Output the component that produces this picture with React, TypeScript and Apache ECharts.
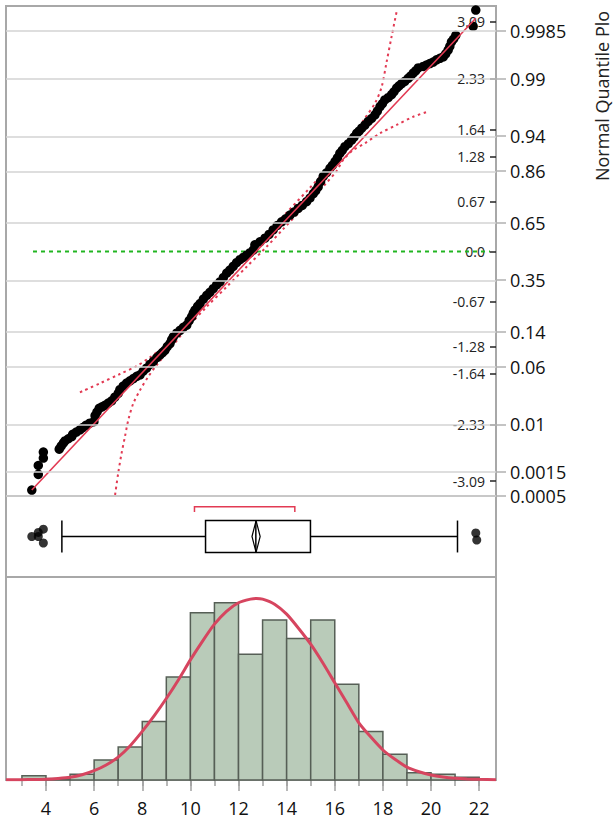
import { useEffect, useRef } from 'react';
import * as echarts from 'echarts';

const X_MIN = 2.338;
const X_MAX = 22.7;
const Z_MIN = -3.2905;
const Z_MAX = 3.304;

// Normal quantile plot: sorted data values and their normal quantiles
const qqValues = [
  3.41, 3.68, 3.68, 3.89, 3.89, 4.55, 4.63, 4.72, 4.79, 4.93, 5.07, 5.11, 5.26, 5.41, 5.53, 5.66, 5.82, 5.99,
  6.04, 6.12, 6.21, 6.33, 6.45, 6.59, 6.73, 6.86, 7.0, 7.07, 7.21, 7.35, 7.49, 7.63, 7.77, 7.91, 8.04, 8.18,
  8.32, 8.46, 8.6, 8.74, 8.84, 8.94, 9.04, 9.15, 9.22, 9.29, 9.43, 9.57, 9.71, 9.85, 9.95, 10.05, 10.12, 10.19,
  10.3, 10.4, 10.54, 10.68, 10.81, 10.95, 11.09, 11.23, 11.37, 11.51, 11.64, 11.78, 11.92, 12.06, 12.2, 12.34,
  12.47, 12.61, 12.68, 12.89, 13.1, 13.27, 13.44, 13.61, 13.79, 13.96, 14.14, 14.31, 14.48, 14.65, 14.83, 14.97,
  15.11, 15.21, 15.31, 15.41, 15.52, 15.66, 15.8, 15.9, 16.01, 16.11, 16.21, 16.31, 16.42, 16.56, 16.7, 16.8,
  16.91, 17.01, 17.12, 17.25, 17.39, 17.53, 17.67, 17.77, 17.88, 17.98, 18.08, 18.22, 18.36, 18.46, 18.57, 18.67,
  18.78, 18.91, 19.05, 19.15, 19.26, 19.36, 19.47, 19.68, 19.81, 19.95, 20.09, 20.23, 20.37, 20.51, 20.61, 20.71,
  20.78, 20.85, 20.94, 21.03, 21.75, 21.86,
];
const qqZ = [
  -3.21, -3.0, -2.88, -2.78, -2.7, -2.66, -2.62, -2.58, -2.55, -2.52, -2.49, -2.46, -2.43, -2.4, -2.37, -2.34, -2.31, -2.29,
  -2.21, -2.16, -2.11, -2.09, -2.07, -2.04, -2.01, -1.96, -1.91, -1.86, -1.81, -1.77, -1.74, -1.71, -1.68, -1.66, -1.61, -1.57,
  -1.52, -1.48, -1.43, -1.39, -1.36, -1.33, -1.28, -1.24, -1.19, -1.15, -1.1, -1.06, -1.02, -0.99, -0.93, -0.88, -0.83, -0.79,
  -0.74, -0.7, -0.64, -0.59, -0.55, -0.5, -0.45, -0.41, -0.35, -0.29, -0.25, -0.2, -0.15, -0.11, -0.08, -0.05,
  -0.02, 0.02, 0.09, 0.13, 0.18, 0.23, 0.29, 0.35, 0.4, 0.44, 0.49, 0.53, 0.58, 0.62, 0.67, 0.72,
  0.78, 0.82, 0.87, 0.94, 1.01, 1.06, 1.12, 1.16, 1.21, 1.26, 1.32, 1.36, 1.41, 1.45, 1.5, 1.54,
  1.59, 1.62, 1.66, 1.7, 1.75, 1.79, 1.84, 1.89, 1.95, 1.99, 2.04, 2.07, 2.11, 2.15, 2.2, 2.23,
  2.26, 2.29, 2.33, 2.36, 2.4, 2.43, 2.47, 2.49, 2.51, 2.53, 2.55, 2.58, 2.6, 2.62, 2.66, 2.71,
  2.76, 2.82, 2.86, 2.91, 3.03, 3.25,
];

// fitted normal line and reference line
const fitLineValues = [3.41, 21.86];
const fitLineZ = [-3.21, 3.14];
const refLineValues = [3.46, 22.45];
const refLineZ = [0, 0];

// confidence bands
const bandLoValues = [5.41, 6.24, 7.07, 7.77, 8.32, 8.87, 9.29, 10.08, 12.07, 13.55, 14.96, 16.14, 16.49, 16.84, 17.25, 17.67, 17.95, 18.15, 18.36, 18.57];
const bandLoZ = [-1.895, -1.774, -1.649, -1.541, -1.424, -1.289, -1.147, -0.828, -0.141, 0.37, 0.855, 1.276, 1.433, 1.591, 1.793, 1.995, 2.218, 2.544, 2.891, 3.227];
const bandHiValues = [6.87, 7.0, 7.14, 7.28, 7.42, 7.63, 7.91, 8.25, 8.6, 9.01, 9.85, 10.68, 11.51, 12.34, 13.17, 13.82, 14.47, 15.12, 15.64, 16.08, 16.35, 16.77, 17.25, 17.88, 18.57, 19.26, 19.88];
const bandHiZ = [-3.277, -2.985, -2.716, -2.493, -2.268, -2.043, -1.864, -1.685, -1.528, -1.37, -1.034, -0.743, -0.474, -0.205, 0.065, 0.289, 0.514, 0.738, 0.918, 1.086, 1.232, 1.366, 1.456, 1.591, 1.703, 1.814, 1.882];

// axis labels
const probLabels = ['0.0005', '0.0015', '0.01', '0.06', '0.14', '0.35', '0.65', '0.86', '0.94', '0.99', '0.9985'];
const probZ = [-3.2905, -2.9677, -2.3263, -1.5548, -1.0803, -0.3853, 0.3853, 1.0803, 1.5548, 2.3263, 2.9677];
const zTicks = [-3.09, -2.33, -1.64, -1.28, -0.67, 0, 0.67, 1.28, 1.64, 2.33, 3.09];
const zTickLabels = ['-3.09', '-2.33', '-1.64', '-1.28', '-0.67', '0.0', '0.67', '1.28', '1.64', '2.33', '3.09'];
const xTickValues = [3, 4, 5, 6, 7, 8, 9, 10, 11, 12, 13, 14, 15, 16, 17, 18, 19, 20, 21, 22];
const xLabelValues = [4, 6, 8, 10, 12, 14, 16, 18, 20, 22];

// box plot
const boxStats = [4.66, 10.63, 12.72, 14.99, 21.1];
const meanDiamond = [12.56, 12.73, 12.9];
const shortestHalf = [10.17, 14.34];
const outlierValues = [3.41, 3.68, 3.68, 3.89, 3.89, 21.86, 21.9];
const outlierJitter = [0.5, 0.55, 0.5, 0.59, 0.42, 0.543, 0.457];

// histogram
const binStarts = [3, 4, 5, 6, 7, 8, 9, 10, 11, 12, 13, 14, 15, 16, 17, 18, 19, 20, 21];
const binWidth = 1;
const binCounts = [3, 1, 4, 14, 23, 41, 72, 117, 124, 88, 112, 99, 112, 67, 34, 18, 5, 4, 2];
const HIST_MAX = 142;

// fitted normal density curve (in counts)
const curveX = [2.338, 3, 3.5, 4, 4.5, 5, 5.5, 6, 6.5, 7, 7.5, 8, 8.5, 9, 9.5, 10, 10.5, 11, 11.5, 12, 12.5, 12.75, 13, 13.5, 14, 14.5, 15, 15.5, 16, 16.5, 17, 17.5, 18, 18.5, 19, 19.5, 20, 20.5, 21, 21.5, 22, 22.7];
const curveY = [0.15, 0.25, 0.4, 0.6, 1.1, 1.9, 3.7, 6.5, 10.5, 16, 24, 34, 45, 57, 70, 84, 97, 109, 118, 124, 126.5, 127, 126.5, 123, 116, 106, 95, 82, 68, 54, 40, 30, 21, 14.5, 9, 5.8, 3.5, 2.1, 1.2, 0.7, 0.45, 0.2];

const FONT = 'Open Sans';
const FRAME = '#a8a8a8';
const RED = '#e23a53';

export default function App() {
  const ref = useRef<HTMLDivElement>(null);
  useEffect(() => {
    if (!ref.current) return;
    const chart = echarts.init(ref.current, undefined, { renderer: 'svg' });
    const pair = (xs: number[], ys: number[]) => xs.map((x, i) => [x, ys[i]]);
    const grids = [
      { left: 6, top: 6, width: 490, height: 490 },
      { left: 6, top: 496, width: 490, height: 81 },
      { left: 6, top: 577, width: 490, height: 203 },
    ].map((g) => ({ ...g, show: true, borderColor: FRAME, borderWidth: 2, backgroundColor: 'transparent', containLabel: false }));

    const option: any = {
      animation: false,
      textStyle: { fontFamily: FONT },
      grid: grids,
      xAxis: [
        { gridIndex: 0, type: 'value', min: X_MIN, max: X_MAX, show: false },
        { gridIndex: 1, type: 'value', min: X_MIN, max: X_MAX, show: false },
        {
          gridIndex: 2, type: 'value', min: X_MIN, max: X_MAX, position: 'bottom', offset: 0,
          axisLine: { show: true, lineStyle: { color: FRAME, width: 2 } },
          axisTick: { show: true, customValues: xTickValues, length: 6, lineStyle: { color: '#a0a0a0', width: 1.5 } },
          axisLabel: { show: false },
          splitLine: { show: false },
        },
        {
          gridIndex: 2, type: 'value', min: X_MIN, max: X_MAX, position: 'bottom', offset: 0,
          axisLine: { show: false },
          axisTick: { show: true, customValues: xLabelValues, length: 11, lineStyle: { color: '#a0a0a0', width: 1.5 } },
          axisLabel: { show: true, customValues: xLabelValues, fontSize: 18, color: '#111', margin: 19, fontFamily: FONT },
          splitLine: { show: false },
        },
      ],
      yAxis: [
        {
          gridIndex: 0, type: 'value', min: Z_MIN, max: Z_MAX, position: 'right', offset: 0,
          axisLine: { show: false },
          axisTick: { show: true, customValues: probZ, length: 10, lineStyle: { color: '#b0b0b0', width: 1.5 } },
          axisLabel: {
            show: true, customValues: probZ, fontSize: 18, color: '#111', margin: 14, fontFamily: FONT,
            showMinLabel: true, showMaxLabel: true,
            formatter: (v: number) => {
              const i = probZ.findIndex((z) => Math.abs(z - v) < 1e-6);
              return i >= 0 ? probLabels[i] : '';
            },
          },
          splitLine: { show: false },
        },
        {
          gridIndex: 0, type: 'value', min: Z_MIN, max: Z_MAX, position: 'right', offset: 0,
          axisLine: { show: false },
          axisTick: { show: true, inside: true, customValues: zTicks, length: 6, lineStyle: { color: '#222', width: 1.5 } },
          axisLabel: {
            show: true, inside: true, customValues: zTicks, fontSize: 14, color: '#222', margin: 11, fontFamily: FONT,
            formatter: (v: number) => {
              const i = zTicks.findIndex((z) => Math.abs(z - v) < 1e-6);
              return i >= 0 ? zTickLabels[i] : '';
            },
          },
          splitLine: { show: false },
        },
        { gridIndex: 1, type: 'value', min: 0, max: 1, show: false },
        { gridIndex: 2, type: 'value', min: 0, max: HIST_MAX, show: false },
      ],
      graphic: [
        {
          type: 'text', x: 602, y: 96, rotation: Math.PI / 2,
          style: { text: 'Normal Quantile Plo', fontSize: 18, fill: '#222', fontFamily: FONT, textAlign: 'center', textVerticalAlign: 'middle' },
        },
      ],
      series: [
        // gridlines
        {
          type: 'line', xAxisIndex: 0, yAxisIndex: 0, data: [[X_MIN, 0]], symbol: 'none', lineStyle: { opacity: 0 }, z: 1, silent: true,
          markLine: {
            symbol: 'none', silent: true, label: { show: false },
            lineStyle: { color: '#d3d3d3', width: 1.6, type: 'solid' },
            data: probZ.map((z) => ({ yAxis: z })),
          },
        },
        {
          type: 'line', xAxisIndex: 0, yAxisIndex: 0, data: pair(refLineValues, refLineZ), symbol: 'none', z: 2,
          lineStyle: { color: '#22b522', width: 2, type: [4, 4] },
        },
        {
          type: 'line', xAxisIndex: 0, yAxisIndex: 0, data: pair(bandLoValues, bandLoZ), symbol: 'none', smooth: 0.3, z: 2,
          lineStyle: { color: RED, width: 2, type: [2.5, 3.5] },
        },
        {
          type: 'line', xAxisIndex: 0, yAxisIndex: 0, data: pair(bandHiValues, bandHiZ), symbol: 'none', smooth: 0.3, z: 2,
          lineStyle: { color: RED, width: 2, type: [2.5, 3.5] },
        },
        {
          type: 'scatter', xAxisIndex: 0, yAxisIndex: 0, data: pair(qqValues, qqZ), symbolSize: 9.5, z: 3,
          itemStyle: { color: '#000', opacity: 1 },
        },
        {
          type: 'line', xAxisIndex: 0, yAxisIndex: 0, data: pair(fitLineValues, fitLineZ), symbol: 'none', z: 4,
          lineStyle: { color: RED, width: 1.6 },
        },
        // box plot
        {
          type: 'custom', xAxisIndex: 1, yAxisIndex: 2, data: [boxStats], z: 3,
          renderItem: (_p: any, api: any) => {
            const wl = api.value(0), q1 = api.value(1), med = api.value(2), q3 = api.value(3), wh = api.value(4);
            const [mLo, m, mHi] = meanDiamond;
            const [sLo, sHi] = shortestHalf;
            const c = (x: number, y: number) => api.coord([x, y]);
            const yc = 0.5, yt = 0.697, yb = 0.303;
            const st = { stroke: '#000', lineWidth: 1.5, fill: null };
            const ln = (a: number[], b: number[], style: any = st) => ({ type: 'line', shape: { x1: a[0], y1: a[1], x2: b[0], y2: b[1] }, style });
            const tl = c(q1, yt), br = c(q3, yb);
            return {
              type: 'group',
              children: [
                ln(c(wl, yc), c(q1, yc)),
                ln(c(q3, yc), c(wh, yc)),
                ln(c(wl, yt), c(wl, yb)),
                ln(c(wh, yt), c(wh, yb)),
                { type: 'rect', shape: { x: tl[0], y: tl[1], width: br[0] - tl[0], height: br[1] - tl[1] }, style: { stroke: '#000', lineWidth: 1.5, fill: '#fff' } },
                ln(c(med, yt), c(med, yb)),
                { type: 'polygon', shape: { points: [c(mLo, yc), c(m, yt), c(mHi, yc), c(m, yb)] }, style: { stroke: '#000', lineWidth: 1.2, fill: 'none' } },
                { type: 'polyline', shape: { points: [c(sLo, 0.802), c(sLo, 0.868), c(sHi, 0.868), c(sHi, 0.802)] }, style: { stroke: RED, lineWidth: 1.5, fill: 'none' } },
              ],
            };
          },
        },
        {
          type: 'scatter', xAxisIndex: 1, yAxisIndex: 2, data: pair(outlierValues, outlierJitter), symbolSize: 9, z: 4,
          itemStyle: { color: '#000' },
        },
        // histogram
        {
          type: 'custom', xAxisIndex: 2, yAxisIndex: 3, z: 2,
          data: binStarts.map((s, i) => [s, s + binWidth, binCounts[i]]),
          encode: { x: [0, 1], y: 2 },
          renderItem: (_p: any, api: any) => {
            const a = api.coord([api.value(0), api.value(2)]);
            const b = api.coord([api.value(1), 0]);
            return {
              type: 'rect',
              shape: { x: a[0], y: a[1], width: b[0] - a[0], height: b[1] - a[1] },
              style: { fill: '#b9cbb9', stroke: '#565f56', lineWidth: 1.5 },
            };
          },
        },
        {
          type: 'line', xAxisIndex: 2, yAxisIndex: 3, data: pair(curveX, curveY), symbol: 'none', smooth: 0.2, z: 5,
          lineStyle: { color: '#d6455f', width: 3 },
        },
      ],
    };
    chart.setOption(option);
    return () => chart.dispose();
  }, []);
  return <div ref={ref} style={{ position: 'absolute', left: 0, top: 0, width: 613, height: 822 }} />;
}
